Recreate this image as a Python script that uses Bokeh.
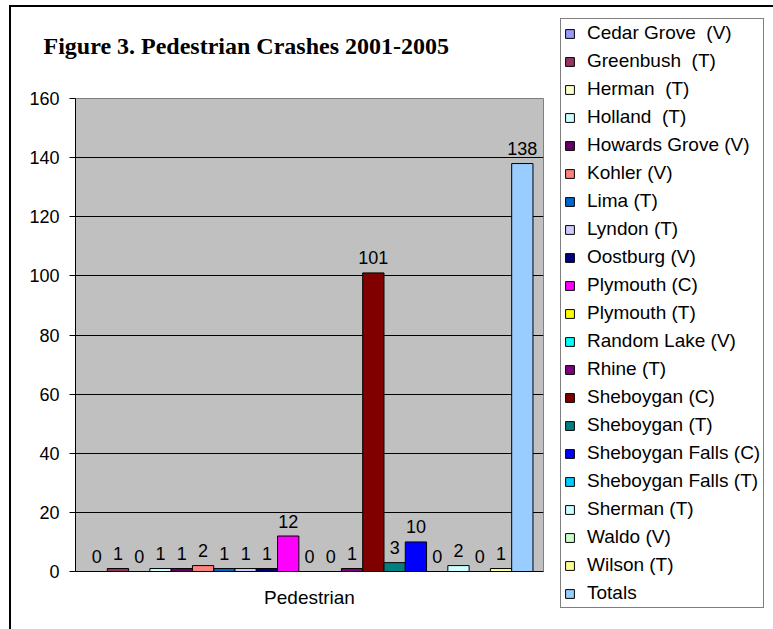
from bokeh.plotting import figure
from bokeh.models import Range1d, FixedTicker, Legend, LegendItem, ColumnDataSource, Title
from bokeh.transform import dodge
from bokeh.core.properties import value
from bokeh.embed import file_html
from bokeh.resources import INLINE

category = ["Pedestrian"]
towns = [
    "Cedar Grove  (V)", "Greenbush  (T)", "Herman  (T)", "Holland  (T)",
    "Howards Grove (V)", "Kohler (V)", "Lima (T)", "Lyndon (T)",
    "Oostburg (V)", "Plymouth (C)", "Plymouth (T)", "Random Lake (V)",
    "Rhine (T)", "Sheboygan (C)", "Sheboygan (T)", "Sheboygan Falls (C)",
    "Sheboygan Falls (T)", "Sherman (T)", "Waldo (V)", "Wilson (T)", "Totals",
]
crashes = [0, 1, 0, 1, 1, 2, 1, 1, 1, 12, 0, 0, 1, 101, 3, 10, 0, 2, 0, 1, 138]
colors = [
    "#9999FF", "#993366", "#FFFFCC", "#CCFFFF", "#660066", "#FF8080",
    "#0066CC", "#CCCCFF", "#000080", "#FF00FF", "#FFFF00", "#00FFFF",
    "#800080", "#800000", "#008080", "#0000FF", "#00CCFF", "#CCFFFF",
    "#CCFFCC", "#FFFF99", "#99CCFF",
]
y_ticks = [0, 20, 40, 60, 80, 100, 120, 140, 160]
chart_title = "Figure 3. Pedestrian Crashes 2001-2005"

FONT = "Liberation Sans"

p = figure(
    x_range=category, y_range=Range1d(0, 160),
    frame_width=468, frame_height=473,
    min_border_left=64, min_border_right=222, min_border_top=91, min_border_bottom=58,
    output_backend="svg", toolbar_location=None,
)
p.styles = {
    "margin-left": "9px", "margin-top": "5px",
    "border-left": "2px solid #000000", "border-top": "2px solid #000000",
}

p.background_fill_color = "#C0C0C0"
p.border_fill_color = "white"
p.outline_line_color = "#808080"

# spacer between title and plot area, then the title itself
p.add_layout(Title(text=" ", text_font_size="10px", standoff=27), "above")
p.add_layout(Title(text=chart_title, text_font="Liberation Serif", text_font_style="bold",
                   text_font_size="24px", text_color="black", align="left",
                   offset=-32, standoff=0, vertical_align="bottom"), "above")

p.xgrid.grid_line_color = None
p.ygrid.grid_line_color = "black"
p.ygrid.grid_line_width = 1

p.yaxis.ticker = FixedTicker(ticks=y_ticks)
p.yaxis.minor_tick_line_color = None
p.yaxis.major_tick_in = 0
p.yaxis.major_tick_out = 6
p.yaxis.major_label_standoff = 10
p.yaxis.major_label_text_font = FONT
p.yaxis.major_label_text_font_size = "18px"
p.yaxis.major_label_text_color = "black"
p.yaxis.axis_line_color = "black"
p.yaxis.major_tick_line_color = "black"

p.xaxis.major_tick_line_color = None
p.xaxis.major_tick_out = 0
p.xaxis.major_label_standoff = 15
p.xaxis.major_label_text_font = FONT
p.xaxis.major_label_text_font_size = "19px"
p.xaxis.major_label_text_color = "black"
p.xaxis.axis_line_color = "black"

n = len(towns)
group = 0.955
bar_w = group / n
items = []
for i, (name, v, c) in enumerate(zip(towns, crashes, colors)):
    off = -group / 2 + (i + 0.5) * bar_w
    src = ColumnDataSource(dict(cat=category, val=[v], lbl=[str(v)]))
    r = p.vbar(x=dodge("cat", off, range=p.x_range), top="val", width=bar_w,
               source=src, fill_color=c, line_color="black", line_width=1)
    p.text(x=dodge("cat", off, range=p.x_range), y="val", text="lbl", source=src,
           text_font=value(FONT), text_font_size="18px", text_color="black",
           text_align="center", text_baseline="alphabetic", y_offset=-15)
    items.append(LegendItem(label=name, renderers=[r]))

legend = Legend(
    items=items, location=(17, -37), margin=0,
    label_text_font=FONT, label_text_font_size="19px", label_text_color="black",
    glyph_width=11, glyph_height=11, label_height=22, spacing=6, padding=3,
    label_standoff=12, border_line_color="black", border_line_width=1,
    background_fill_color="white", background_fill_alpha=1.0,
)
p.add_layout(legend, "right")

open("out.html", "w").write(file_html(p, INLINE))
